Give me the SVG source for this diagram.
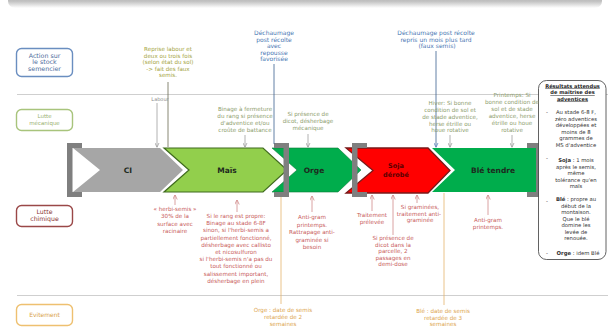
<svg xmlns="http://www.w3.org/2000/svg" width="608" height="333" viewBox="0 0 608 333">
<style>
text{font-family:"DejaVu Sans","Liberation Sans",sans-serif;text-anchor:middle}
.t{font-size:5.6px}
.act{fill:#a3a33a}
.blue{fill:#4a78b4}
.mec{fill:#8c9c6c}
.chi{fill:#c85a5a}
.evi{fill:#dca44c}
.box{font-size:5.3px;fill:#333}
.hdr{font-size:5.1px;fill:#222;font-weight:bold;text-decoration:underline}
.big{font-size:7.5px;font-weight:bold;fill:#1e2a1e}
.sep{stroke:#cfcfcf;stroke-width:1}
.brk{fill:#7f7f7f}
</style>
<defs>
<linearGradient id="bar" x1="0" y1="0" x2="0" y2="1">
<stop offset="0" stop-color="#9a9a9a"/><stop offset="0.6" stop-color="#c4c4c4"/><stop offset="1" stop-color="#ffffff"/>
</linearGradient>
<marker id="aGray" markerUnits="userSpaceOnUse" markerWidth="5" markerHeight="5" refX="4.5" refY="2.5" orient="auto"><path d="M0,0.3 L4.8,2.5 L0,4.7" fill="none" stroke="#a0a0a0" stroke-width="0.8"/></marker>
<marker id="aBlue" markerUnits="userSpaceOnUse" markerWidth="5" markerHeight="5" refX="4.5" refY="2.5" orient="auto"><path d="M0,0.3 L4.8,2.5 L0,4.7" fill="none" stroke="#5a86c0" stroke-width="0.8"/></marker>
<marker id="aRed" markerUnits="userSpaceOnUse" markerWidth="5" markerHeight="5" refX="4.5" refY="2.5" orient="auto"><path d="M0,0.3 L4.8,2.5 L0,4.7" fill="none" stroke="#d08a8a" stroke-width="0.8"/></marker>
</defs>
<rect x="0" y="0" width="608" height="333" fill="#ffffff"/>
<rect x="8" y="-8" width="594" height="16" rx="7" fill="url(#bar)"/>
<line class="sep" x1="17" y1="94.5" x2="608" y2="94.5"/>
<line class="sep" x1="17" y1="295.5" x2="608" y2="295.5"/>

<g id="label-action"><rect x="16.5" y="48.5" width="56" height="28" rx="5" fill="#fff" stroke="#6a8ec0" stroke-width="1.4"/>
<text x="44.5" y="57.5" font-size="6.3" fill="#4a6a9a">Action sur</text><text x="44.5" y="64" font-size="6.3" fill="#4a6a9a">le stock</text><text x="44.5" y="70.5" font-size="6.3" fill="#4a6a9a">semencier</text></g>
<g id="label-mecanique"><rect x="16.5" y="109.5" width="56" height="21" rx="5" fill="#fff" stroke="#a8c47c" stroke-width="1.4"/>
<text x="44.5" y="118" font-size="5.5" fill="#98b070">Lutte</text><text x="44.5" y="124.5" font-size="5.5" fill="#98b070">mécanique</text></g>
<g id="label-chimique"><rect x="16.5" y="205.5" width="56" height="21" rx="5" fill="#fff" stroke="#9a4848" stroke-width="1.4"/>
<text x="44.5" y="214" font-size="6.2" fill="#8a3434">Lutte</text><text x="44.5" y="220.5" font-size="6.2" fill="#8a3434">chimique</text></g>
<g id="label-evitement"><rect x="16.5" y="304.5" width="56" height="21" rx="5" fill="#fff" stroke="#eec070" stroke-width="1.4"/>
<text x="44.5" y="317" font-size="6" fill="#d8a048">Evitement</text></g>

<g id="chevrons">
<g id="ci"><polygon points="73,148 160,148 183,170 160,192 73,192 100,170" fill="#a6a6a6"/><text class="big" x="128" y="173">CI</text></g>
<g id="mais"><polygon points="164,148 263,148 287,170 263,192 164,192 189,170" fill="#92cf4c" stroke="#3f6a1e" stroke-width="1.2"/><text class="big" x="227" y="173">Maïs</text></g>
<g id="orge"><polygon points="272,148 338,148 361,170 338,192 272,192 297,170" fill="#00ad4c" stroke="#0a7a36" stroke-width="0.6"/><text class="big" x="314" y="173">Orge</text></g>
<g id="soja"><polygon points="346,148 428,148 450,170.5 428,193 346,193 373,170.5" fill="#ff0000" stroke="#7a1a1a" stroke-width="1.3"/><text x="396" y="168" font-size="6.5" font-weight="bold" fill="#5a0000">Soja</text><text x="396" y="176.5" font-size="6.5" font-weight="bold" fill="#5a0000">dérobé</text></g>
<g id="ble"><polygon points="432,148 537,148 558,170 537,192 432,192 455,170" fill="#00ad4c"/><text class="big" x="493" y="173">Blé tendre</text></g>
</g>

<g id="brackets">
<path class="brk" d="M67,143 H82 V148 H72.5 V192 H82 V197 H67 Z"/>
<path class="brk" d="M274,143 H289 V197 H274 V192 H283.5 V148 H274 Z"/>
<path class="brk" d="M352,143 H367 V148 H357.5 V192 H367 V197 H352 Z"/>
<path class="brk" d="M527,143 H541.5 V197 H527 V192 H536 V148 H527 Z"/>
</g>

<g id="results">
<rect x="538.5" y="80.5" width="67.5" height="179" rx="8" fill="#fff" stroke="#3a3a3a" stroke-width="0.8"/>
<text class="hdr" x="572.5" y="87.5">Résultats attendus</text>
<text class="hdr" x="572.5" y="94">de maîtrise des</text>
<text class="hdr" x="572.5" y="100.5">adventices</text>
<text class="box" x="547" y="114">-</text>
<text class="box" x="576" y="114">Au stade 6-8 F,</text>
<text class="box" x="576" y="120.5">zéro adventices</text>
<text class="box" x="576" y="127">développées et</text>
<text class="box" x="576" y="133.5">moins de 8</text>
<text class="box" x="576" y="140">grammes de</text>
<text class="box" x="576" y="146.5">MS d'adventice</text>
<text class="box" x="547" y="160">-</text>
<text class="box" x="576" y="162"><tspan font-weight="bold">Soja</tspan> : 1 mois</text>
<text class="box" x="576" y="168.5">après le semis,</text>
<text class="box" x="576" y="175">même</text>
<text class="box" x="576" y="181.5">tolérance qu'en</text>
<text class="box" x="576" y="188">maïs</text>
<text class="box" x="547" y="203">-</text>
<text class="box" x="576" y="201"><tspan font-weight="bold">Blé</tspan> : propre au</text>
<text class="box" x="576" y="207.5">début de la</text>
<text class="box" x="576" y="214">montaison.</text>
<text class="box" x="576" y="220.5">Que le blé</text>
<text class="box" x="576" y="227">domine les</text>
<text class="box" x="576" y="233.5">levée de</text>
<text class="box" x="576" y="240">renouée.</text>
<text class="box" x="547" y="255">-</text>
<text class="box" x="578" y="255"><tspan font-weight="bold">Orge</tspan> : idem Blé</text>
</g>

<g id="connectors" fill="none" stroke-width="0.8">
<line x1="168" y1="82" x2="168" y2="147" stroke="#6a6a50"/>
<line x1="157" y1="103" x2="157" y2="147" stroke="#a0a0a0" marker-end="url(#aGray)"/>
<line x1="274" y1="64" x2="274" y2="144" stroke="#3b5f8f"/>
<line x1="436" y1="51" x2="436" y2="147" stroke="#3b5f8f" marker-end="url(#aBlue)"/>
<line x1="245" y1="135" x2="245" y2="147" stroke="#a0a0a0" marker-end="url(#aGray)"/>
<line x1="308" y1="134" x2="308" y2="147" stroke="#a0a0a0" marker-end="url(#aGray)"/>
<line x1="450" y1="135" x2="450" y2="147" stroke="#a0a0a0" marker-end="url(#aGray)"/>
<line x1="512" y1="135" x2="512" y2="147" stroke="#a0a0a0" marker-end="url(#aGray)"/>
<line x1="175" y1="205" x2="175" y2="195" stroke="#d08a8a" marker-end="url(#aRed)"/>
<line x1="237" y1="212" x2="237" y2="200" stroke="#d08a8a" marker-end="url(#aRed)"/>
<line x1="312" y1="212" x2="312" y2="196" stroke="#d08a8a" marker-end="url(#aRed)"/>
<line x1="372" y1="211" x2="372" y2="195" stroke="#d08a8a" marker-end="url(#aRed)"/>
<line x1="417" y1="203" x2="417" y2="195" stroke="#d08a8a" marker-end="url(#aRed)"/>
<line x1="393" y1="235" x2="393" y2="195" stroke="#d08a8a" marker-end="url(#aRed)"/>
<line x1="488" y1="215" x2="488" y2="195" stroke="#d08a8a" marker-end="url(#aRed)"/>
<line x1="281" y1="304" x2="281" y2="197" stroke="#e4b46c"/>
<line x1="444" y1="305" x2="444" y2="193" stroke="#e4b46c"/>
</g>

<g id="txt-reprise" class="t act">
<text x="168" y="51">Reprise labour et</text><text x="168" y="57.5">deux ou trois fois</text><text x="168" y="64">(selon état du sol)</text><text x="168" y="70.5">-&gt; fait des faux</text><text x="168" y="77">semis.</text>
</g>
<g id="txt-labour"><text x="160" y="100.5" font-size="5" fill="#8a8a8a">Labour</text></g>
<g id="txt-dechaumage1" class="blue" font-size="6">
<text x="274" y="35">Déchaumage</text><text x="274" y="41.5">post récolte</text><text x="274" y="48">avec</text><text x="274" y="54.5">repousse</text><text x="274" y="61">favorisée</text>
</g>
<g id="txt-dechaumage2" class="blue" font-size="6">
<text x="436" y="35">Déchaumage post récolte</text><text x="436" y="41.5">repris un mois plus tard</text><text x="437" y="48">(faux semis)</text>
</g>
<g id="txt-binage" class="t mec">
<text x="245" y="111">Binage à fermeture</text><text x="245" y="118">du rang si présence</text><text x="245" y="125">d'adventice et/ou</text><text x="245" y="131.5">croûte de battance</text>
</g>
<g id="txt-dicot-meca" class="t mec">
<text x="308" y="116">Si présence de</text><text x="308" y="123">dicot, désherbage</text><text x="308" y="129.5">mécanique</text>
</g>
<g id="txt-hiver" class="t mec">
<text x="450" y="105">Hiver: Si bonne</text><text x="450" y="112">condition de sol et</text><text x="450" y="119">de stade adventice,</text><text x="450" y="125.5">herse étrille ou</text><text x="450" y="132">houe rotative</text>
</g>
<g id="txt-printemps" class="t mec">
<text x="512" y="97">Printemps: Si</text><text x="512" y="104">bonne condition de</text><text x="512" y="111">sol et de stade</text><text x="512" y="118">adventice, herse</text><text x="512" y="125">étrille ou houe</text><text x="512" y="132">rotative</text>
</g>
<g id="txt-herbisemis" class="t chi">
<text x="175" y="210.5">« herbi-semis »</text><text x="175" y="218">30% de la</text><text x="175" y="225.5">surface avec</text><text x="175" y="233">racinaire</text>
</g>
<g id="txt-rang" class="t chi">
<text x="236" y="218">Si le rang est propre:</text><text x="236" y="225.2">Binage au stade 6-8F</text><text x="236" y="232.4">sinon, si l'herbi-semis a</text><text x="236" y="239.6">partiellement fonctionné,</text><text x="236" y="246.8">désherbage avec callisto</text><text x="236" y="254">et nicosulfuron</text><text x="236" y="261.2">si l'herbi-semis n'a pas du</text><text x="236" y="268.4">tout fonctionné ou</text><text x="236" y="275.6">salissement important,</text><text x="236" y="282.8">désherbage en plein</text>
</g>
<g id="txt-antigram-orge" class="t chi">
<text x="312" y="219">Anti-gram</text><text x="312" y="226.5">printemps.</text><text x="312" y="234">Rattrapage anti-</text><text x="312" y="241.5">graminée si</text><text x="312" y="249">besoin</text>
</g>
<g id="txt-prelevee" class="t chi">
<text x="372" y="217">Traitement</text><text x="372" y="223.5">prélevée</text>
</g>
<g id="txt-graminees" class="t chi">
<text x="420" y="209">Si graminées,</text><text x="419" y="215.5">traitement anti-</text><text x="420" y="222">graminée</text>
</g>
<g id="txt-dicot-soja" class="t chi">
<text x="393" y="240">Si présence de</text><text x="393" y="246.5">dicot dans la</text><text x="393" y="253">parcelle, 2</text><text x="393" y="259.5">passages en</text><text x="393" y="266">demi-dose</text>
</g>
<g id="txt-antigram-ble" class="t chi">
<text x="488" y="222">Anti-gram</text><text x="488" y="229">printemps.</text>
</g>
<g id="txt-evit-orge" class="t evi">
<text x="283" y="312">Orge : date de semis</text><text x="283" y="319">retardée de 2</text><text x="283" y="326">semaines</text>
</g>
<g id="txt-evit-ble" class="t evi">
<text x="443" y="313">Blé : date de semis</text><text x="443" y="319.5">retardée de 3</text><text x="443" y="326">semaines</text>
</g>
</svg>
